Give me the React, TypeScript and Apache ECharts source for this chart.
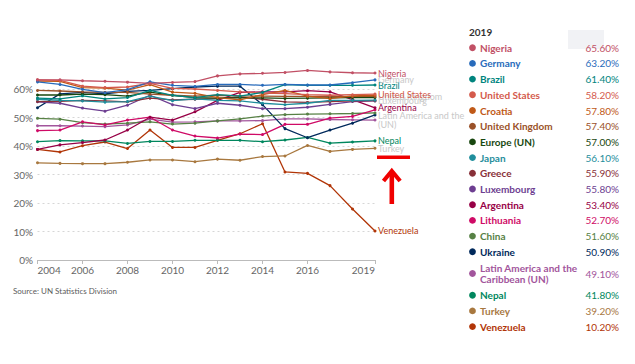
import { useEffect, useRef } from "react";
import * as echarts from "echarts";

const years = ["2004","2005","2006","2007","2008","2009","2010","2011","2012","2013","2014","2015","2016","2017","2018","2019"];
const shownYears = ["2004","2006","2008","2010","2012","2014","2016","2019"];
const yTickValues = [0, 10, 20, 30, 40, 50, 60];

const nigeria = [63.2, 63.2, 62.9, 62.7, 62.4, 62.0, 62.3, 62.6, 64.6, 65.3, 65.5, 65.8, 66.5, 66.0, 65.7, 65.6];
const germany = [62.5, 61.6, 59.9, 58.7, 59.8, 62.5, 61.3, 60.9, 61.6, 61.6, 61.3, 61.6, 61.4, 61.4, 62.2, 63.2];
const brazil = [56.8, 56.5, 57.6, 56.5, 57.0, 59.5, 57.8, 57.0, 58.0, 57.5, 58.8, 61.5, 61.3, 61.3, 61.3, 61.4];
const unitedStates = [63.2, 63.0, 61.0, 60.5, 60.7, 62.0, 60.2, 60.0, 59.5, 59.0, 58.6, 58.4, 58.0, 57.8, 58.0, 58.2];
const croatia = [62.8, 62.7, 60.5, 60.3, 59.6, 61.5, 58.9, 58.5, 57.0, 56.2, 58.0, 59.5, 57.5, 56.6, 57.6, 57.8];
const unitedKingdom = [59.5, 59.3, 59.0, 58.8, 58.8, 58.2, 57.8, 57.5, 57.8, 57.6, 57.5, 57.4, 57.4, 57.3, 57.4, 57.4];
const europe = [57.9, 57.9, 58.2, 58.0, 57.5, 58.9, 57.8, 57.0, 56.8, 56.9, 56.9, 56.7, 56.8, 56.9, 57.0, 57.0];
const japan = [56.4, 56.0, 55.8, 55.4, 55.6, 57.5, 55.9, 56.5, 56.0, 55.8, 55.0, 54.5, 55.0, 56.0, 56.0, 56.1];
const greece = [55.6, 55.7, 56.0, 55.8, 55.5, 56.8, 56.2, 56.4, 56.6, 57.2, 56.4, 55.5, 55.3, 55.6, 55.8, 55.9];
const luxembourg = [55.5, 55.0, 53.3, 52.2, 54.3, 57.8, 54.5, 53.1, 55.0, 54.3, 53.1, 53.1, 53.6, 54.6, 55.6, 55.8];
const argentina = [38.8, 40.4, 41.2, 42.1, 45.6, 50.1, 49.1, 52.0, 56.0, 58.8, 59.0, 59.0, 59.4, 59.0, 56.3, 53.4];
const lithuania = [45.4, 45.6, 48.5, 47.4, 49.1, 50.1, 45.6, 43.5, 42.8, 44.2, 44.0, 47.6, 47.6, 49.8, 50.4, 52.7];
const china = [49.7, 49.4, 48.2, 47.7, 48.0, 48.5, 47.7, 48.0, 48.8, 49.5, 50.5, 51.0, 51.2, 51.3, 51.4, 51.6];
const ukraine = [53.4, 58.3, 58.8, 58.3, 59.2, 59.5, 60.1, 60.7, 61.0, 61.0, 54.5, 46.1, 42.9, 45.6, 48.0, 50.9];
const latinAmerica = [47.1, 47.1, 47.0, 46.8, 47.4, 49.4, 48.4, 48.5, 48.8, 48.8, 48.9, 49.5, 49.5, 49.3, 49.2, 49.1];
const nepal = [41.5, 41.9, 41.8, 41.8, 40.9, 41.6, 41.6, 42.0, 42.0, 42.0, 41.5, 42.1, 43.0, 41.0, 41.4, 41.8];
const turkey = [34.1, 33.9, 33.8, 33.8, 34.3, 35.1, 35.1, 34.5, 35.4, 35.0, 36.3, 36.5, 40.2, 38.1, 38.8, 39.2];
const venezuela = [38.8, 37.9, 40.1, 41.4, 39.1, 45.6, 39.5, 39.5, 42.0, 44.3, 47.8, 30.9, 30.4, 26.1, 17.9, 10.2];

const countryNames = ["Nigeria","Germany","Brazil","United States","Croatia","United Kingdom","Europe (UN)","Japan","Greece","Luxembourg","Argentina","Lithuania","China","Ukraine","Latin America and the Caribbean (UN)","Nepal","Turkey","Venezuela"];
const countryData = [nigeria, germany, brazil, unitedStates, croatia, unitedKingdom, europe, japan, greece, luxembourg, argentina, lithuania, china, ukraine, latinAmerica, nepal, turkey, venezuela];

const colors: Record<string, string> = {
  "Nigeria": "#C15065",
  "Germany": "#286BBB",
  "Brazil": "#00847E",
  "United States": "#D45A4C",
  "Croatia": "#C05917",
  "United Kingdom": "#9A5129",
  "Europe (UN)": "#18470F",
  "Japan": "#1F8E9C",
  "Greece": "#883039",
  "Luxembourg": "#6D3E91",
  "Argentina": "#970046",
  "Lithuania": "#CF0A66",
  "China": "#578145",
  "Ukraine": "#00295B",
  "Latin America and the Caribbean (UN)": "#A2559C",
  "Nepal": "#00875E",
  "Turkey": "#A8783F",
  "Venezuela": "#B13507",
};

// end-of-line labels: strong ones coloured, faded ones grey
const strongLabels: Record<string, string> = {
  "Nigeria": "Nigeria",
  "Brazil": "Brazil",
  "United States": "United States",
  "Argentina": "Argentina",
  "Nepal": "Nepal",
  "Venezuela": "Venezuela",
};
const fadedLabels: Record<string, string> = {
  "Germany": "Germany",
  "United Kingdom": "United Kingdom",
  "Luxembourg": "Luxembourg",
  "Latin America and the Caribbean (UN)": "Latin America and the\n(UN)",
  "Turkey": "Turkey",
};
const legendNames: Record<string, string> = {
  "Latin America and the Caribbean (UN)": "Latin America and the\nCaribbean (UN)",
};

const FONT = "Lato, sans-serif";

export default function App() {
  const ref = useRef<HTMLDivElement>(null);
  useEffect(() => {
    const chart = echarts.init(ref.current!, null, { renderer: "svg" });

    const drawOrder = countryNames.slice().reverse();
    const series = drawOrder.map((name) => {
      const idx = countryNames.indexOf(name);
      const c = colors[name];
      const strong = strongLabels[name];
      const faded = fadedLabels[name];
      const s: any = {
        name,
        type: "line",
        data: countryData[idx],
        symbol: "circle",
        symbolSize: 3,
        showSymbol: true,
        lineStyle: { width: 1.3, color: c },
        itemStyle: { color: c },
        emphasis: { disabled: true },
        z: 2,
      };
      if (strong || faded) {
        s.endLabel = {
          show: true,
          formatter: strong || faded,
          color: strong ? c : "#c8c8c8",
          fontSize: 9,
          fontFamily: FONT,
          lineHeight: 9,
          distance: 3,
        };
      }
      return s;
    });

    // legend table on the right
    const graphics: any[] = [];
    graphics.push({
      type: "rect",
      shape: { x: 568, y: 30, width: 36, height: 19 },
      style: { fill: "#f1f2f5" },
      z: 0,
    });
    graphics.push({
      type: "text",
      x: 469,
      y: 32,
      style: { text: "2019", fill: "#333", fontSize: 10, fontWeight: "bold", fontFamily: FONT, verticalAlign: "middle" },
    });
    let y = 47.7;
    const rowH = 15.7;
    let prevTwo = false;
    countryNames.forEach((name, i) => {
      const lname = legendNames[name] || name;
      const two = lname.includes("\n");
      if (i > 0) y += rowH + (two ? 6 : 0) + (prevTwo ? 6 : 0);
      prevTwo = two;
      const c = colors[name];
      const data = countryData[i];
      const last = data[data.length - 1];
      graphics.push({ type: "circle", shape: { cx: 472.5, cy: y, r: 3.4 }, style: { fill: c }, z: 5 });
      graphics.push({
        type: "text",
        x: 480,
        y,
        style: { text: lname, fill: c, fontSize: 10, fontWeight: "bold", fontFamily: FONT, verticalAlign: "middle", lineHeight: 11.7 },
        z: 5,
      });
      graphics.push({
        type: "text",
        x: 619,
        y,
        style: { text: last.toFixed(2) + "%", fill: c, fontSize: 10, fontFamily: FONT, align: "right", verticalAlign: "middle" },
        z: 5,
      });
    });
    graphics.push({
      type: "text",
      x: 13,
      y: 291,
      style: { text: "Source: UN Statistics Division", fill: "#5b5b5b", fontSize: 8, fontFamily: FONT, verticalAlign: "middle" },
    });
    // red annotation bar and arrow
    graphics.push({ type: "rect", shape: { x: 377, y: 155.5, width: 33, height: 3.6 }, style: { fill: "#f00000" }, z: 6 });
    graphics.push({ type: "line", shape: { x1: 391.8, y1: 173, x2: 391.8, y2: 204 }, style: { stroke: "#f00000", lineWidth: 4.6 }, z: 6 });
    graphics.push({
      type: "polyline",
      shape: { points: [[383.5, 181], [391.8, 171], [400.1, 181]] },
      style: { stroke: "#f00000", lineWidth: 4.2, fill: null, lineJoin: "miter" },
      z: 6,
    });

    const option: any = {
      animation: false,
      grid: { left: 37.5, right: 260, top: 60.5, bottom: 104, containLabel: false },
      xAxis: {
        type: "category",
        data: years,
        boundaryGap: false,
        axisLine: { lineStyle: { color: "#bbbbbb" } },
        axisTick: {
          show: true,
          length: 4,
          lineStyle: { color: "#bbbbbb" },
          interval: (_i: number, v: string) => shownYears.includes(v),
        },
        axisLabel: {
          interval: (_i: number, v: string) => shownYears.includes(v),
          color: "#666",
          fontSize: 10,
          fontFamily: FONT,
          margin: 5,
          alignMinLabel: "left",
          alignMaxLabel: "right",
        },
        splitLine: { show: false },
      },
      yAxis: {
        type: "value",
        min: 0,
        max: 70,
        interval: 10,
        axisLine: { show: false },
        axisTick: { show: false },
        axisLabel: {
          color: "#666",
          fontSize: 10,
          fontFamily: FONT,
          margin: 4.5,
          formatter: (v: number) => (yTickValues.includes(v) ? v + "%" : ""),
        },
        splitLine: {
          show: true,
          showMinLine: false,
          showMaxLine: false,
          lineStyle: { color: "#d6d6d6", type: [2, 3], width: 1 },
        },
      },
      series,
      graphic: graphics,
    };
    chart.setOption(option);
    return () => chart.dispose();
  }, []);
  return <div ref={ref} style={{ position: "fixed", left: 0, top: 0, width: 635, height: 364, background: "#fff" }} />;
}
